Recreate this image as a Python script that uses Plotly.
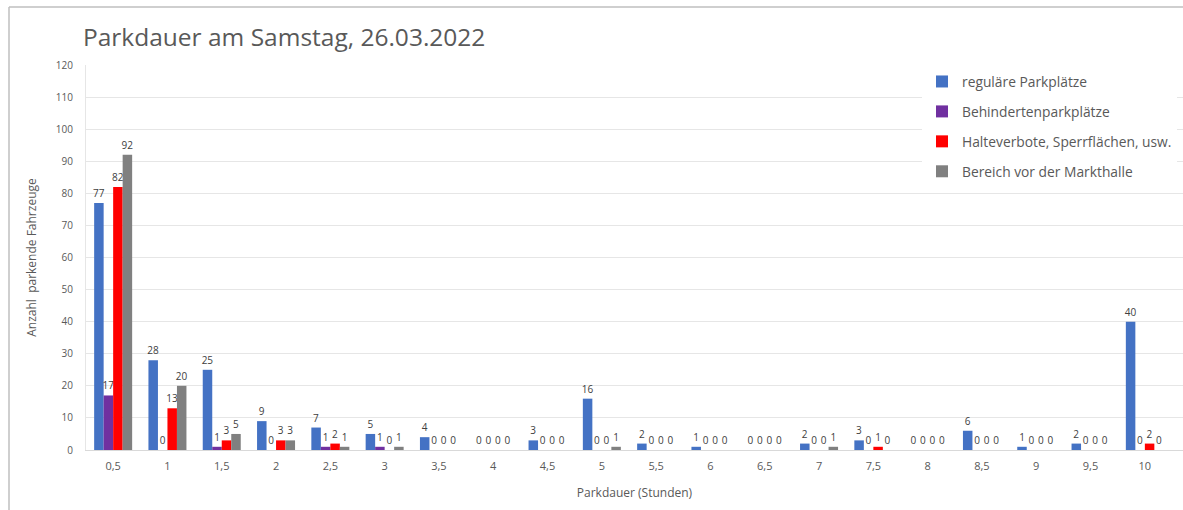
import plotly.graph_objects as go

# Parking duration categories (hours)
dauer = ["0,5", "1", "1,5", "2", "2,5", "3", "3,5", "4", "4,5", "5",
         "5,5", "6", "6,5", "7", "7,5", "8", "8,5", "9", "9,5", "10"]

regulaer = [77, 28, 25, 9, 7, 5, 4, 0, 3, 16, 2, 1, 0, 2, 3, 0, 6, 1, 2, 40]
behinderten = [17, 0, 1, 0, 1, 1, 0, 0, 0, 0, 0, 0, 0, 0, 0, 0, 0, 0, 0, 0]
halteverbote = [82, 13, 3, 3, 2, 0, 0, 0, 0, 0, 0, 0, 0, 0, 1, 0, 0, 0, 0, 2]
markthalle = [92, 20, 5, 3, 1, 1, 0, 0, 0, 1, 0, 0, 0, 1, 0, 0, 0, 0, 0, 0]

serien = [
    ("reguläre Parkplätze", regulaer, "#4472C4"),
    ("Behindertenparkplätze", behinderten, "#7030A0"),
    ("Halteverbote, Sperrflächen, usw.", halteverbote, "#FF0000"),
    ("Bereich vor der Markthalle", markthalle, "#808080"),
]

FONT = "Open Sans, Liberation Sans, sans-serif"

fig = go.Figure()
for i, (name, werte, farbe) in enumerate(serien):
    fig.add_trace(go.Bar(
        x=dauer, y=werte, name=name, legendgroup=f"g{i}",
        marker=dict(color=farbe, line=dict(width=0)),
        text=[str(v) for v in werte], textposition="outside",
        constraintext="none",
        textfont=dict(size=10, color="#404040", family=FONT),
        cliponaxis=False,
    ))

W, H = 1183, 510
L, R, T, B = 86, 0, 65, 60
pw, ph = W - L - R, H - T - B
step = 54.3  # pixel width of one category slot

def px_x(p):
    return (p - L) / pw

def px_y(p):
    return (H - B - p) / ph

fig.update_layout(
    width=W, height=H,
    margin=dict(l=L, r=R, t=T, b=B),
    paper_bgcolor="white", plot_bgcolor="white",
    barmode="group", bargap=0.3, bargroupgap=0,
    font=dict(family=FONT, color="#595959"),
    title=dict(text="Parkdauer am Samstag, 26.03.2022",
               font=dict(size=24.5, color="#595959", family=FONT),
               x=83 / W, xanchor="left",
               y=1 - 37 / H, yanchor="middle"),
    xaxis=dict(
        range=[-0.5, -0.5 + pw / step],
        showline=True, linecolor="#D9D9D9", linewidth=1,
        ticks="", tickfont=dict(size=11, color="#595959"),
        ticklabelstandoff=6,
        title=dict(text="Parkdauer (Stunden)", font=dict(size=12, color="#595959"),
                   standoff=16),
    ),
    yaxis=dict(
        range=[0, 120], dtick=10, showgrid=True, gridcolor="#E6E6E6",
        zeroline=False, showline=True, linecolor="#E6E6E6", ticks="",
        tickfont=dict(size=10, color="#595959"),
        ticklabelstandoff=10,
        title=dict(text="Anzahl  parkende Fahrzeuge",
                   font=dict(size=12, color="#595959"), standoff=16),
    ),
    legend=dict(
        x=px_x(922), xanchor="left", y=px_y(66), yanchor="top",
        bgcolor="white", font=dict(size=13.8, color="#595959"),
        tracegroupgap=9, itemwidth=30,
    ),
    showlegend=True,
    shapes=[
        dict(type="line", xref="paper", yref="paper",
             x0=px_x(9), x1=px_x(1183), y0=px_y(7), y1=px_y(7),
             line=dict(color="#BFBFBF", width=1.5)),
        dict(type="line", xref="paper", yref="paper",
             x0=px_x(9), x1=px_x(9), y0=px_y(7), y1=px_y(510),
             line=dict(color="#BFBFBF", width=1.5)),
    ],
)

fig.write_html("out.html")
